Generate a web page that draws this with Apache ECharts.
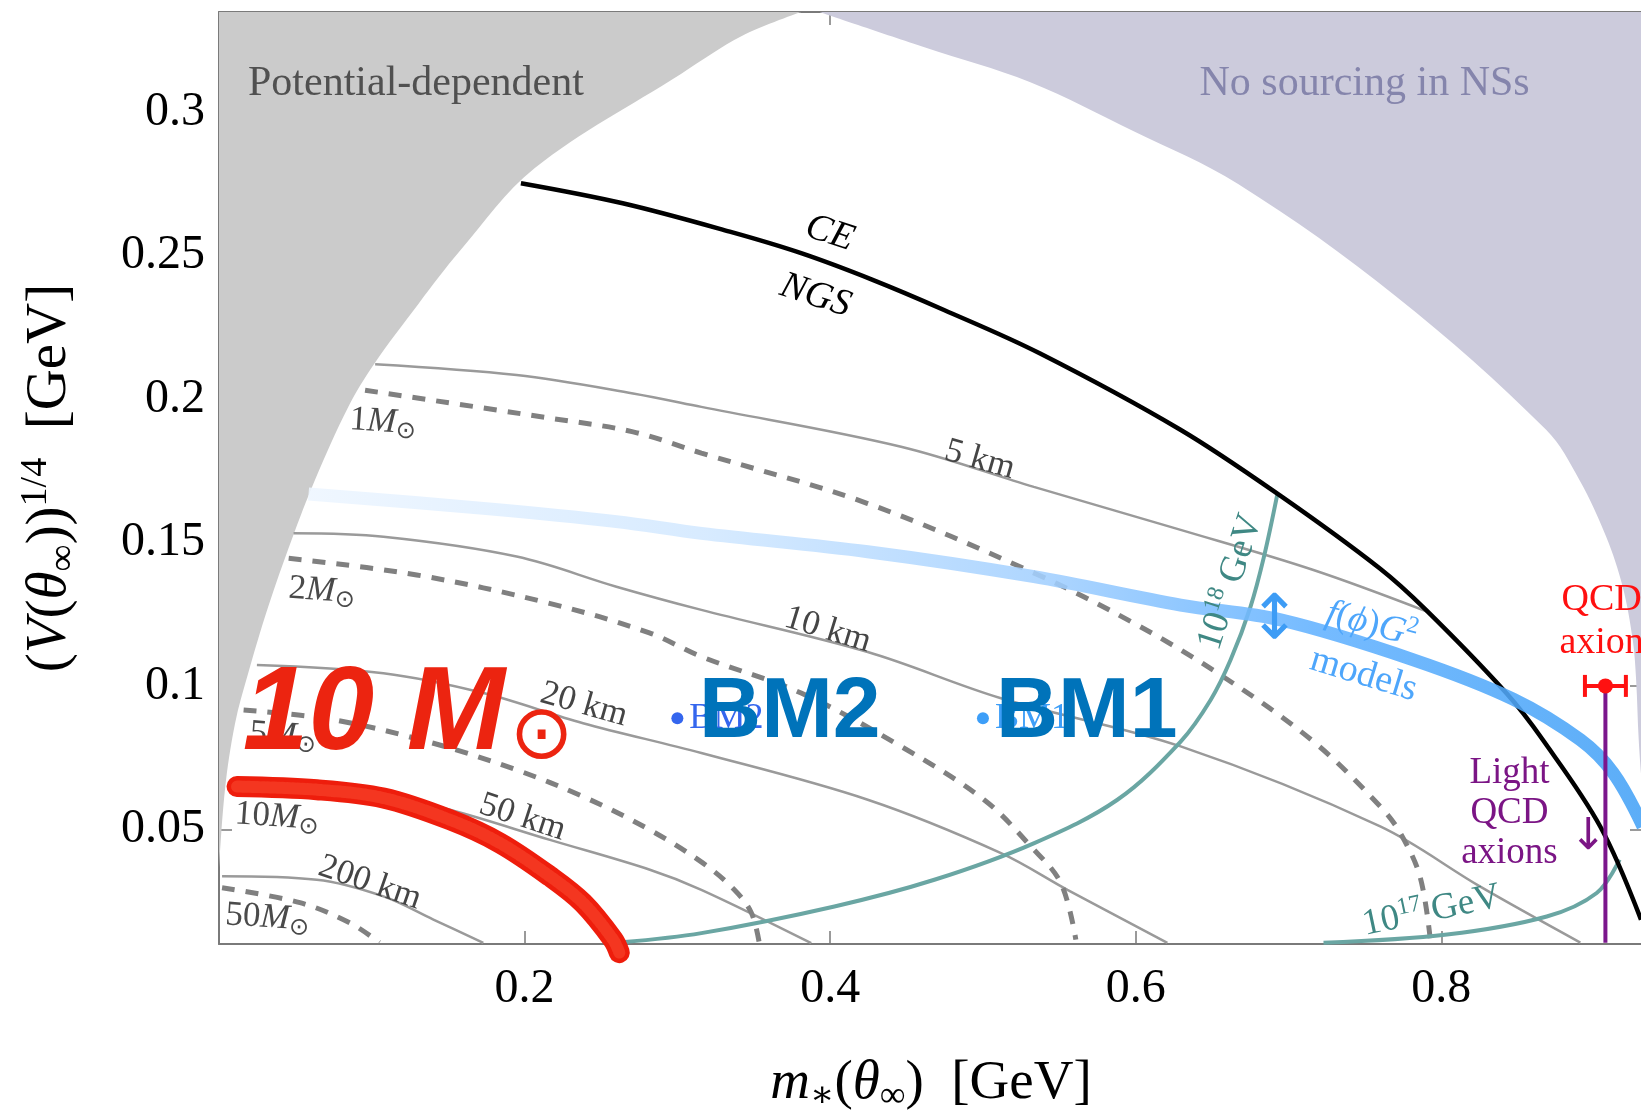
<!DOCTYPE html>
<html>
<head>
<meta charset="utf-8">
<script src="https://cdn.jsdelivr.net/npm/echarts@6/dist/echarts.min.js"></script>
<style>
  html, body { margin: 0; padding: 0; background: #ffffff; }
  #chart { width: 1641px; height: 1111px; }
</style>
</head>
<body>
<div id="chart"></div>
<script>
// ---- axis ticks ----
const xTickValues = [0.2, 0.4, 0.6, 0.8];
const yTickValues = [0.05, 0.1, 0.15, 0.2, 0.25, 0.3];

// ---- excluded regions: [m*, V^(1/4)] along their boundaries ----
const potentialDependentEdge = [
  [0.0, 0.036], [0.0039, 0.0638], [0.0105, 0.0869], [0.0191, 0.1044], [0.0322, 0.1276],
  [0.0475, 0.1509], [0.0628, 0.1718], [0.0846, 0.1973], [0.1013, 0.2121], [0.1305, 0.2332],
  [0.158, 0.2519], [0.2065, 0.2805], [0.3026, 0.3135], [0.3425, 0.3267], [0.381, 0.335]
];
const noSourcingEdge = [
  [0.393, 0.335], [0.4617, 0.3227], [0.531, 0.3105], [0.599, 0.2933], [0.667, 0.275],
  [0.770, 0.236], [0.8686, 0.1893], [0.8904, 0.1718], [0.9079, 0.152],
  [0.9187, 0.1346], [0.9253, 0.116], [0.9275, 0.1021], [0.9292, 0.0812], [0.932, 0.06]
];

// ---- critical-endpoint / NGS boundary ----
const ceNgsLine = [
  [0.1976, 0.2753], [0.2642, 0.2683], [0.3343, 0.2584], [0.381, 0.2509], [0.4278, 0.2416],
  [0.4745, 0.2311], [0.5371, 0.216], [0.6287, 0.1895], [0.6941, 0.1665], [0.7596, 0.141],
  [0.7901, 0.1264], [0.8425, 0.0975], [0.8664, 0.0812], [0.9041, 0.0509], [0.9307, 0.0185]
];

// ---- constant-radius contours ----
const radius5km = [
  [0.1022, 0.2122], [0.1948, 0.2084], [0.271, 0.202], [0.3157, 0.1973], [0.4464, 0.1834],
  [0.5333, 0.1694], [0.6294, 0.1544], [0.7163, 0.1404], [0.7907, 0.1259]
];
const radius10km = [
  [0.0488, 0.1532], [0.1076, 0.152], [0.1948, 0.1451], [0.2601, 0.1346], [0.3157, 0.1265],
  [0.4246, 0.1118], [0.5118, 0.0957], [0.6294, 0.0789], [0.760, 0.051], [0.8255, 0.03], [0.891, 0.0105]
];
const radius20km = [
  [0.0248, 0.1073], [0.1076, 0.1044], [0.173, 0.0975], [0.2383, 0.087], [0.3157, 0.0766],
  [0.4246, 0.0603], [0.5118, 0.0417], [0.5553, 0.0289], [0.6207, 0.0104]
];
const radius50km = [
  [0.0096, 0.0675], [0.0858, 0.065], [0.1512, 0.0568], [0.2166, 0.0463], [0.282, 0.0359],
  [0.3157, 0.0289], [0.3876, 0.0103]
];
const radius200km = [
  [0.002, 0.0336], [0.064, 0.0324], [0.1076, 0.0266], [0.1403, 0.0185], [0.173, 0.0104]
];

// ---- constant-mass contours ----
const mass1 = [
  [0.0956, 0.2031], [0.2163, 0.1934], [0.271, 0.1886], [0.3157, 0.1812], [0.4246, 0.1636],
  [0.5333, 0.1394], [0.5987, 0.1219], [0.6556, 0.1038], [0.7163, 0.0806], [0.760, 0.058],
  [0.773, 0.0488], [0.786, 0.0336], [0.7928, 0.0115]
];
const mass2 = [
  [0.0456, 0.1445], [0.1294, 0.1387], [0.2163, 0.1288], [0.2817, 0.1185], [0.3157, 0.1102],
  [0.381, 0.0975], [0.4464, 0.0789], [0.5007, 0.0603], [0.5314, 0.044], [0.551, 0.0312], [0.5608, 0.0115]
];
const mass5 = [
  [0.0161, 0.0916], [0.075, 0.0882], [0.1403, 0.08], [0.1948, 0.0707], [0.2383, 0.0614],
  [0.282, 0.0498], [0.3168, 0.0382], [0.3373, 0.0289], [0.3484, 0.0209], [0.3536, 0.0104]
];
const mass10 = [
  [0.0096, 0.0655], [0.064, 0.063], [0.1076, 0.06], [0.1512, 0.0525], [0.1839, 0.0445],
  [0.2166, 0.033], [0.2383, 0.0238], [0.258, 0.0105]
];
const mass50 = [
  [0.002, 0.0296], [0.053, 0.0244], [0.0856, 0.0174], [0.105, 0.0105]
];

// ---- highlighted 10 solar-mass track ----
const tenSolarTrack = [
  [0.0118, 0.0649], [0.064, 0.0638], [0.1076, 0.0609], [0.1512, 0.0533], [0.1839, 0.0452],
  [0.2166, 0.0336], [0.2383, 0.0243], [0.258, 0.0115], [0.262, 0.007]
];

// ---- f(phi) G^2 model band ----
const fG2Models = [
  [0.0586, 0.1669], [0.173, 0.1619], [0.2601, 0.1573], [0.3157, 0.1532], [0.4246, 0.1468],
  [0.5335, 0.1381], [0.6294, 0.1282], [0.6948, 0.123], [0.7817, 0.1091], [0.847, 0.0954],
  [0.891, 0.0812], [0.9124, 0.0697], [0.932, 0.051]
];

// ---- decay-constant contours ----
const fa1e18 = [
  [0.2634, 0.0106], [0.3157, 0.0138], [0.4028, 0.0231], [0.4682, 0.0324], [0.5336, 0.0452],
  [0.588, 0.0603], [0.6294, 0.0806], [0.649, 0.0951], [0.6621, 0.1091], [0.6751, 0.1276],
  [0.6839, 0.145], [0.6926, 0.1666]
];
const fa1e17 = [
  [0.7229, 0.0104], [0.8037, 0.0133], [0.869, 0.0196], [0.9017, 0.0278], [0.9167, 0.0394]
];

// ---- QCD axion ----
const qcdAxionMass = 0.9074;
const qcdAxionMassErr = 0.0134;
const qcdAxionV = 0.1;
const lightQcdAxions = [[qcdAxionMass, 0.0104], [qcdAxionMass, qcdAxionV]];

// ---- benchmark points ----
const benchmarkNames = ['BM2', 'BM1'];
const benchmarkMass = [0.3, 0.5];
const benchmarkV = [0.0887, 0.0887];

// ---------------------------------------------------------------
const serif = "'Liberation Serif', 'DejaVu Serif', serif";
const sans = "'Liberation Sans', Arial, sans-serif";
const symbolFont = "'DejaVu Sans', sans-serif";

function mathRich(size, color) {
  return {
    n: { fontFamily: serif, fontSize: size, color: color, lineHeight: Math.round(size * 1.15) },
    i: { fontFamily: serif, fontSize: size, color: color, fontStyle: 'italic', lineHeight: Math.round(size * 1.15) },
    sb: { fontFamily: serif, fontSize: Math.round(size * 0.66), color: color, verticalAlign: 'bottom', lineHeight: Math.round(size * 0.2) },
    sp: { fontFamily: serif, fontSize: Math.round(size * 0.66), color: color, verticalAlign: 'top', lineHeight: Math.round(size * 0.35) },
    sun: { fontFamily: symbolFont, fontSize: Math.round(size * 0.68), color: color, verticalAlign: 'bottom', lineHeight: Math.round(size * 0.2) }
  };
}

function curve(data, color, width, extra) {
  return Object.assign({
    type: 'line', data: data, symbol: 'none', showSymbol: false, smooth: 0.35,
    silent: true, z: 2,
    lineStyle: { color: color, width: width }
  }, extra || {});
}

function note(x, y, text, label) {
  return {
    value: [x, y],
    label: Object.assign({
      show: true, formatter: text, position: 'inside', align: 'center', verticalAlign: 'middle', opacity: 1
    }, label)
  };
}

const grayText = '#454545';
const massText = '#4a4a4a';
const tealText = '#3f8884';
const blueText = '#4ea6fb';

const annotations = [
  note(0.1289, 0.3099, 'Potential-dependent', { fontFamily: serif, fontSize: 42, color: '#505050' }),
  note(0.7498, 0.3099, 'No sourcing in NSs', { fontFamily: serif, fontSize: 42, color: '#8585ac' }),
  note(0.3997, 0.2578, 'CE', { fontFamily: serif, fontSize: 38, fontStyle: 'italic', color: '#000', rotate: -18 }),
  note(0.3904, 0.236, 'NGS', { fontFamily: serif, fontSize: 38, fontStyle: 'italic', color: '#000', rotate: -18 }),
  note(0.4979, 0.1788, '5 km', { fontFamily: serif, fontSize: 35, color: grayText, rotate: -16 }),
  note(0.3984, 0.1195, '10 km', { fontFamily: serif, fontSize: 35, color: grayText, rotate: -17 }),
  note(0.2388, 0.0934, '20 km', { fontFamily: serif, fontSize: 35, color: grayText, rotate: -16 }),
  note(0.1986, 0.0541, '50 km', { fontFamily: serif, fontSize: 35, color: grayText, rotate: -18 }),
  note(0.0988, 0.0313, '200 km', { fontFamily: serif, fontSize: 35, color: grayText, rotate: -19 }),
  note(0.1073, 0.192, '{n|1}{i|M}{sun|⊙}', { rich: mathRich(35, massText), rotate: -4 }),
  note(0.0674, 0.1331, '{n|2}{i|M}{sun|⊙}', { rich: mathRich(35, massText), rotate: -4 }),
  note(0.0419, 0.0826, '{n|5}{i|M}{sun|⊙}', { rich: mathRich(35, massText), rotate: -4 }),
  note(0.0379, 0.0543, '{n|10}{i|M}{sun|⊙}', { rich: mathRich(35, massText), rotate: -4 }),
  note(0.0317, 0.0191, '{n|50}{i|M}{sun|⊙}', { rich: mathRich(35, massText), rotate: -4 }),
  note(0.6621, 0.1362, '{n|10}{sp|18}{n| GeV}', { rich: mathRich(37, tealText), rotate: 72 }),
  note(0.7936, 0.0215, '{n|10}{sp|17}{n| GeV}', { rich: mathRich(37, tealText), rotate: 12 }),
  note(0.7543, 0.1213, '{i|f}{n|(}{i|ϕ}{n|)}{i|G}{sp|2}', { rich: mathRich(37, blueText), rotate: -15 }),
  note(0.7491, 0.1038, 'models', { fontFamily: serif, fontSize: 38, color: blueText, rotate: -17 }),
  note(0.6909, 0.1223, '↕', { fontFamily: symbolFont, fontSize: 62, color: '#3d9cf5' }),
  note(0.9049, 0.1223, 'QCD\naxion', { fontFamily: serif, fontSize: 38, color: '#ff1010', lineHeight: 43 }),
  note(0.8446, 0.0557, 'Light\nQCD\naxions', { fontFamily: serif, fontSize: 37, color: '#7b1585', lineHeight: 40 }),
  note(0.8963, 0.0470, '↓', { fontFamily: symbolFont, fontSize: 44, color: '#7b1585' })
];

const bigLabels = [
  note(0.1014, 0.0895, '10 M', { fontFamily: sans, fontSize: 118, fontWeight: 'bold', fontStyle: 'italic', color: '#ec2410' }),
  note(0.2111, 0.0818, '⊙', { fontFamily: symbolFont, fontSize: 76, color: '#ec2410' }),
  note(0.3736, 0.0904, 'BM2', { fontFamily: sans, fontSize: 86, fontWeight: 'bold', color: '#0073ba' }),
  note(0.5679, 0.0904, 'BM1', { fontFamily: sans, fontSize: 86, fontWeight: 'bold', color: '#0073ba' })
];

const benchmarkColors = ['#3466ee', '#3d9ef8'];
const benchmarkData = benchmarkNames.map((name, k) => ({
  name: name,
  value: [benchmarkMass[k], benchmarkV[k]],
  itemStyle: { color: benchmarkColors[k] },
  label: { color: benchmarkColors[k] }
}));

const axisGray = '#7a7a7a';

const option = {
  animation: false,
  backgroundColor: '#ffffff',
  grid: { left: 219, right: -2, top: 12, bottom: 167, outerBoundsMode: 'none' },
  xAxis: [
    {
      type: 'value', min: 0, max: 0.932, position: 'bottom',
      axisLine: { show: true, onZero: false, lineStyle: { color: axisGray, width: 2 } },
      axisTick: { show: true, inside: true, length: 13, customValues: xTickValues, lineStyle: { color: axisGray, width: 1.5 } },
      axisLabel: {
        show: true, customValues: xTickValues, margin: 21, fontFamily: serif, fontSize: 48, color: '#000',
        formatter: v => String(+v.toFixed(2))
      },
      splitLine: { show: false },
      name: '{i|m}{sb|∗}{n|(}{i|θ}{sb|∞}{n|)  [GeV]}',
      nameLocation: 'middle', nameGap: 108,
      nameTextStyle: { rich: mathRich(55, '#000') }
    },
    {
      type: 'value', min: 0, max: 0.932, position: 'top',
      axisLine: { show: true, onZero: false, lineStyle: { color: axisGray, width: 2 } },
      axisTick: { show: true, inside: true, length: 13, customValues: xTickValues, lineStyle: { color: axisGray, width: 1.5 } },
      axisLabel: { show: false },
      splitLine: { show: false }
    }
  ],
  yAxis: [
    {
      type: 'value', min: 0.01, max: 0.335, position: 'left',
      axisLine: { show: true, onZero: false, lineStyle: { color: axisGray, width: 2 } },
      axisTick: { show: true, inside: true, length: 13, customValues: yTickValues, lineStyle: { color: axisGray, width: 1.5 } },
      axisLabel: {
        show: true, customValues: yTickValues, margin: 14, fontFamily: serif, fontSize: 48, color: '#000',
        formatter: v => String(+v.toFixed(2))
      },
      splitLine: { show: false },
      name: '{n|(}{i|V}{n|(}{i|θ}{sb|∞}{n|))}{sp|1/4}{n|  [GeV]}',
      nameLocation: 'middle', nameRotate: 90, nameGap: 136,
      nameTextStyle: { rich: mathRich(57, '#000') }
    },
    {
      type: 'value', min: 0.01, max: 0.335, position: 'right',
      axisLine: { show: true, onZero: false, lineStyle: { color: axisGray, width: 2 } },
      axisTick: { show: true, inside: true, length: 13, customValues: yTickValues, lineStyle: { color: axisGray, width: 1.5 } },
      axisLabel: { show: false },
      splitLine: { show: false }
    }
  ],
  series: [
    // shaded regions
    {
      type: 'line', data: potentialDependentEdge, symbol: 'none', smooth: 0.35, silent: true, z: 1,
      lineStyle: { width: 0 }, areaStyle: { color: '#cbcbcb', opacity: 1, origin: 'end' }
    },
    {
      type: 'line', data: noSourcingEdge, symbol: 'none', smooth: 0.35, silent: true, z: 1,
      lineStyle: { width: 0 }, areaStyle: { color: '#cccbdc', opacity: 1, origin: 'end' }
    },
    // radius contours
    curve(radius5km, '#9a9a9a', 2.5),
    curve(radius10km, '#9a9a9a', 2.5),
    curve(radius20km, '#9a9a9a', 2.5),
    curve(radius50km, '#9a9a9a', 2.5),
    curve(radius200km, '#9a9a9a', 2.5),
    // mass contours
    curve(mass1, '#808080', 5, { lineStyle: { color: '#808080', width: 5, type: [13, 11] } }),
    curve(mass2, '#808080', 5, { lineStyle: { color: '#808080', width: 5, type: [13, 11] } }),
    curve(mass5, '#808080', 5, { lineStyle: { color: '#808080', width: 5, type: [13, 11] } }),
    curve(mass10, '#808080', 5, { lineStyle: { color: '#808080', width: 5, type: [13, 11] } }),
    curve(mass50, '#808080', 5, { lineStyle: { color: '#808080', width: 5, type: [13, 11] } }),
    // decay constants
    curve(fa1e18, '#6aa6a3', 4, { z: 3 }),
    curve(fa1e17, '#6aa6a3', 4, { z: 3 }),
    // CE / NGS
    curve(ceNgsLine, '#000000', 4.5, { z: 3 }),
    // model band
    curve(fG2Models, '#4aa3f7', 13, {
      z: 4,
      lineStyle: {
        width: 13, opacity: 0.88, cap: 'butt',
        color: new echarts.graphic.LinearGradient(0, 0, 1, 0, [
          { offset: 0, color: '#eef6ff' },
          { offset: 0.3, color: '#d2e8ff' },
          { offset: 0.55, color: '#a3d0ff' },
          { offset: 0.75, color: '#63b2ff' },
          { offset: 1, color: '#45a2f6' }
        ])
      }
    }),
    // light QCD axions
    curve(lightQcdAxions, '#7b168c', 4, { smooth: false, z: 5 }),
    {
      type: 'custom', silent: true, z: 5,
      data: [[qcdAxionMass, qcdAxionV, qcdAxionMassErr]],
      renderItem: function (params, api) {
        const m = api.value(0), v = api.value(1), dm = api.value(2);
        const a = api.coord([m - dm, v]);
        const b = api.coord([m + dm, v]);
        const cap = 11;
        const st = { stroke: '#ff1111', lineWidth: 4 };
        return {
          type: 'group', children: [
            { type: 'line', shape: { x1: a[0], y1: a[1], x2: b[0], y2: b[1] }, style: st },
            { type: 'line', shape: { x1: a[0], y1: a[1] - cap, x2: a[0], y2: a[1] + cap }, style: st },
            { type: 'line', shape: { x1: b[0], y1: b[1] - cap, x2: b[0], y2: b[1] + cap }, style: st }
          ]
        };
      }
    },
    {
      type: 'scatter', silent: true, z: 6, symbolSize: 15,
      data: [[qcdAxionMass, qcdAxionV]],
      itemStyle: { color: '#ff1111', opacity: 1 }
    },
    // benchmarks
    {
      type: 'scatter', silent: true, z: 6, symbolSize: 12,
      data: benchmarkData,
      itemStyle: { opacity: 1 },
      label: {
        show: true, position: 'right', distance: 6, formatter: p => p.name,
        fontFamily: serif, fontSize: 36, opacity: 1
      }
    },
    // highlighted 10 Msun track
    curve(tenSolarTrack, '#ee1d0c', 21, { z: 7, clip: false, lineStyle: { color: '#ee1d0c', width: 21, cap: 'round', join: 'round' } }),
    curve(tenSolarTrack, '#ee1d0c', 21, { z: 7, clip: false, lineStyle: { color: '#f43a22', width: 12, cap: 'round', type: [3, 2], opacity: 0.9 } }),
    // text annotations
    {
      type: 'scatter', silent: true, z: 9, symbolSize: 1, clip: false,
      itemStyle: { color: 'rgba(0,0,0,0)', opacity: 1 },
      data: annotations
    },
    {
      type: 'scatter', silent: true, z: 10, symbolSize: 1, clip: false,
      itemStyle: { color: 'rgba(0,0,0,0)', opacity: 1 },
      data: bigLabels
    }
  ]
};

const chart = echarts.init(document.getElementById('chart'));
chart.setOption(option);
</script>
</body>
</html>
